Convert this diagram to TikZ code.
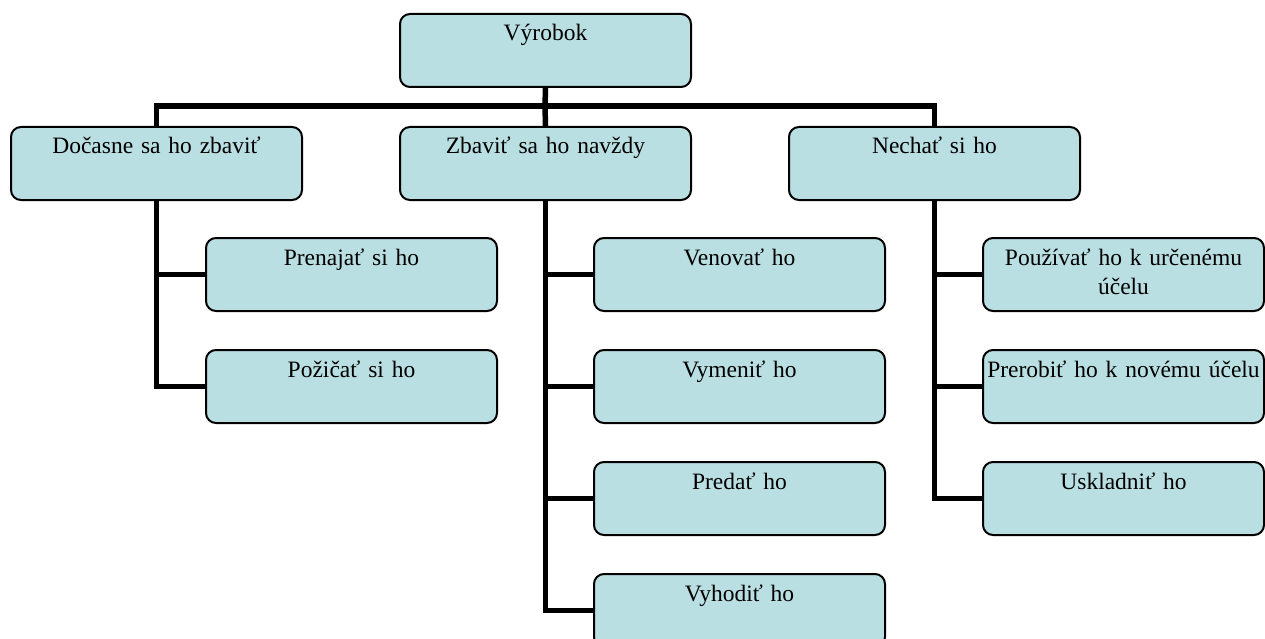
\documentclass[tikz,border=0pt]{standalone}
\usepackage{fontspec}
\setmainfont{Liberation Serif}
\definecolor{boxfill}{RGB}{186,223,226}
\tikzset{
	box/.style={draw=black,fill=boxfill,line width=2pt,rounded corners=10pt,anchor=north west,
		minimum width=291pt,text width=287pt,align=center,inner sep=0pt,
		text height=27pt,text depth=46pt,font=\fontsize{23.5}{29}\selectfont},
	link/.style={line width=5.5pt}
}
\begin{document}
\begin{tikzpicture}[x=1pt,y=-1pt]
	\useasboundingbox (0,0) rectangle (1265,639);
	% top and second row
	\node[box] (vyr) at (399,13) {Výrobok};
	\node[box] (doc) at (10,126) {Dočasne sa ho zbaviť};
	\node[box] (zba) at (399,126) {Zbaviť sa ho navždy};
	\node[box] (nech) at (788,126) {Nechať si ho};
	% children
	\node[box] (pren) at (205,237) {Prenajať si ho};
	\node[box] (poz) at (205,349) {Požičať si ho};
	\node[box] (ven) at (593,237) {Venovať ho};
	\node[box] (vym) at (593,349) {Vymeniť ho};
	\node[box] (pred) at (593,461) {Predať ho};
	\node[box] (vyh) at (593,573) {Vyhodiť ho};
	\node[box,minimum width=281pt,text width=281pt] (pouz) at (982,237) {Používať ho k určenému\\účelu};
	\node[box,minimum width=281pt,text width=281pt] (prer) at (982,349) {Prerobiť ho k novému účelu};
	\node[box,minimum width=281pt,text width=281pt] (uskl) at (982,461) {Uskladniť ho};
	% connectors
	\coordinate (bus) at (545,106);
	\draw[link] (vyr.south) -- (bus) -- (zba.north);
	\draw[link] (bus) -| (doc.north);
	\draw[link] (bus) -| (nech.north);
	\draw[link] (doc.south) |- (pren.west);
	\draw[link] (doc.south) |- (poz.west);
	\draw[link] (zba.south) |- (ven.west);
	\draw[link] (zba.south) |- (vym.west);
	\draw[link] (zba.south) |- (pred.west);
	\draw[link] (zba.south) |- (vyh.west);
	\draw[link] (nech.south) |- (pouz.west);
	\draw[link] (nech.south) |- (prer.west);
	\draw[link] (nech.south) |- (uskl.west);
\end{tikzpicture}
\end{document}
